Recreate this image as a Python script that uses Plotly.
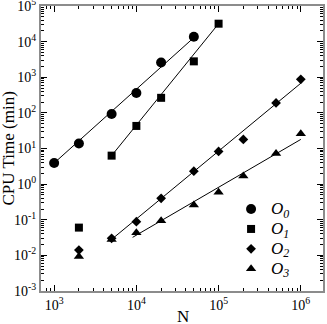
import plotly.graph_objects as go

N0 = [1000, 2000, 5000, 10000, 20000, 50000]
T0 = [3.9, 13.8, 93, 360, 2600, 13800]
N1 = [2000, 5000, 10000, 20000, 50000, 100000]
T1 = [0.06, 6.3, 43, 265, 2800, 32000]
N2 = [2000, 5000, 10000, 20000, 50000, 100000, 200000, 500000, 1000000]
T2 = [0.014, 0.030, 0.088, 0.40, 2.3, 8.3, 18, 190, 880]
N3 = [2000, 5000, 10000, 20000, 50000, 100000, 200000, 500000, 1000000]
T3 = [0.0093, 0.028, 0.043, 0.094, 0.26, 0.59, 1.7, 7.2, 26]

# power-law fit lines (end points)
FIT0_N, FIT0_T = [1000, 50000], [3.9, 13000]
FIT1_N, FIT1_T = [5000, 100000], [6.3, 32000]
FIT2_N, FIT2_T = [5000, 1000000], [0.028, 680]
FIT3_N, FIT3_T = [9000, 1000000], [0.032, 18]

X_TICKS = [1e3, 1e4, 1e5, 1e6]
X_LABELS = ['10<sup>3</sup>', '10<sup>4</sup>', '10<sup>5</sup>', '10<sup>6</sup>']
Y_TICKS = [1e-3, 1e-2, 1e-1, 1, 10, 100, 1e3, 1e4, 1e5]
Y_LABELS = ['10<sup>-3</sup>', '10<sup>-2</sup>', '10<sup>-1</sup>', '10<sup>0</sup>',
            '10<sup>1</sup>', '10<sup>2</sup>', '10<sup>3</sup>', '10<sup>4</sup>',
            '10<sup>5</sup>']

FONT = 'Liberation Serif, Times New Roman, serif'


def leg_name(k):
    # legend font is kept small so rows pack tightly; text itself drawn larger
    return ('<span style="font-size:17px"><i>O</i><sub><i>%d</i></sub></span>' % k)


series = [
    (N0, T0, 'circle', 10, leg_name(0)),
    (N1, T1, 'square', 8, leg_name(1)),
    (N2, T2, 'diamond', 7.5, leg_name(2)),
    (N3, T3, 'triangle-up', 9, leg_name(3)),
]
fits = [(FIT0_N, FIT0_T), (FIT1_N, FIT1_T), (FIT2_N, FIT2_T), (FIT3_N, FIT3_T)]

fig = go.Figure()
for fx, fy in fits:
    fig.add_trace(go.Scatter(x=fx, y=fy, mode='lines',
                             line=dict(color='black', width=1),
                             showlegend=False, hoverinfo='skip'))
for x, y, sym, sz, name in series:
    fig.add_trace(go.Scatter(x=x, y=y, mode='markers', name=name,
                             marker=dict(symbol=sym, size=sz, color='black',
                                         line=dict(width=0))))

axis_common = dict(type='log', showgrid=False, zeroline=False,
                   showline=True, linecolor='#8c8c8c', linewidth=2,
                   mirror='ticks', ticks='inside', ticklen=6, tickwidth=1,
                   tickcolor='black', automargin=False,
                   ticklabeloverflow='allow',
                   tickfont=dict(family=FONT, size=14, color='black'),
                   minor=dict(ticks='inside', ticklen=3, tickwidth=1,
                              tickcolor='black', dtick='D1', showgrid=False))

fig.update_layout(
    width=327, height=324,
    paper_bgcolor='white', plot_bgcolor='white',
    margin=dict(l=41, r=4, t=6, b=33),
    font=dict(family=FONT, color='black'),
    xaxis=dict(axis_common, range=[2.84, 6.27], tickvals=X_TICKS,
               ticktext=X_LABELS),
    yaxis=dict(axis_common, range=[-3.002, 5.002], tickvals=Y_TICKS,
               ticktext=Y_LABELS),
    legend=dict(x=0.674, y=0.34, xanchor='left', yanchor='top',
                bgcolor='rgba(0,0,0,0)', font=dict(family=FONT, size=13),
                tracegroupgap=0, itemwidth=30),
    showlegend=True,
)
fig.add_annotation(text='N', xref='paper', yref='paper',
                   x=(183 - 41) / 282, y=(291 - 316) / 285,
                   xanchor='center', yanchor='middle', showarrow=False,
                   font=dict(family=FONT, size=17))
fig.add_annotation(text='CPU Time (min)', xref='paper', yref='paper',
                   x=(8 - 41) / 282, y=0.5, textangle=-90,
                   xanchor='center', yanchor='middle', showarrow=False,
                   font=dict(family=FONT, size=17))

# page body has a default 8px margin, drop it so the figure sits at 0,0
fig.write_html('out.html', config={'displayModeBar': False},
               post_script="document.body.style.margin='0';")
